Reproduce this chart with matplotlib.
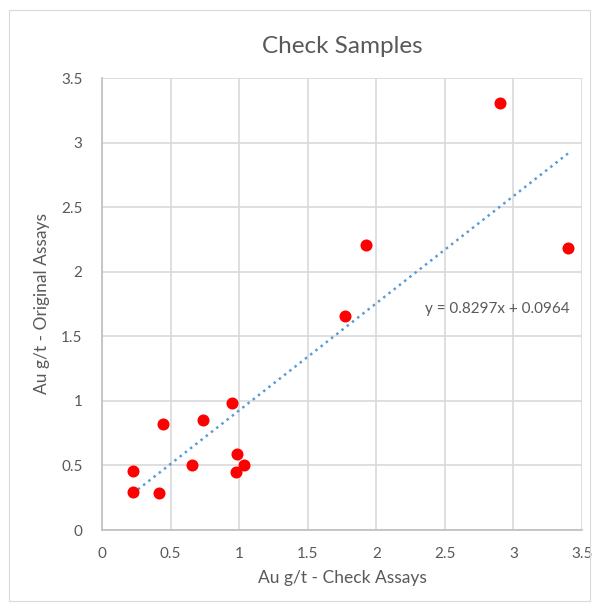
import numpy as np
import matplotlib.pyplot as plt
from matplotlib.patches import Rectangle

# check assay vs original assay, Au g/t
check_au = [0.224, 0.229, 0.414, 0.446, 0.658, 0.733, 0.945, 0.987, 0.977, 1.038,
            1.77, 1.925, 2.90, 3.40]
orig_au = [0.456, 0.296, 0.289, 0.817, 0.503, 0.848, 0.985, 0.590, 0.446, 0.503,
           1.66, 2.21, 3.31, 2.18]
slope = 0.8297
intercept = 0.0964
ticks = [0, 0.5, 1, 1.5, 2, 2.5, 3, 3.5]

plt.rcParams['font.family'] = ['Lato', 'DejaVu Sans']
text_col = '#595959'
grid_col = '#d9d9d9'

fig = plt.figure(figsize=(5.98, 6.10), dpi=100)
fig.patches.append(Rectangle((9 / 598, 9 / 610), 581 / 598, 591 / 610, transform=fig.transFigure,
                             fill=False, edgecolor='#d9d9d9', linewidth=0.8))
ax = fig.add_axes([102 / 598, 1 - 530 / 610, 480 / 598, 452 / 610])

ax.scatter(check_au, orig_au, s=75, color='#ff0000', zorder=3, linewidths=0)

x_fit = np.array([min(check_au), max(check_au)])
ax.plot(x_fit, slope * x_fit + intercept, linestyle=':', color='#5b9bd5', linewidth=1.8, zorder=2)
ax.text(3.41, 1.71, 'y = %.4fx + %.4f' % (slope, intercept), ha='right', va='center',
        fontsize=11, color=text_col)

ax.set_xlim(0, 3.5)
ax.set_ylim(0, 3.5)
ax.set_xticks(ticks)
ax.set_yticks(ticks)
ax.set_xticklabels([('%g' % t) for t in ticks])
ax.set_yticklabels([('%g' % t) for t in ticks])
ax.grid(True, color=grid_col, linewidth=1.2, zorder=0)
ax.set_axisbelow(True)
for side in ['top', 'right']:
    ax.spines[side].set_visible(False)
for side in ['left', 'bottom']:
    ax.spines[side].set_color('#bfbfbf')
    ax.spines[side].set_linewidth(1.2)
ax.tick_params(length=0, labelsize=11, colors=text_col, pad=12)
ax.tick_params(axis='y', pad=14)

ax.set_title('Check Samples', fontsize=17.5, color=text_col, pad=18)
ax.set_xlabel('Au g/t - Check Assays', fontsize=12.5, color=text_col, labelpad=7)
ax.set_ylabel('Au g/t - Original Assays', fontsize=12.5, color=text_col, labelpad=8)

fig.savefig('out.png', dpi=100)
